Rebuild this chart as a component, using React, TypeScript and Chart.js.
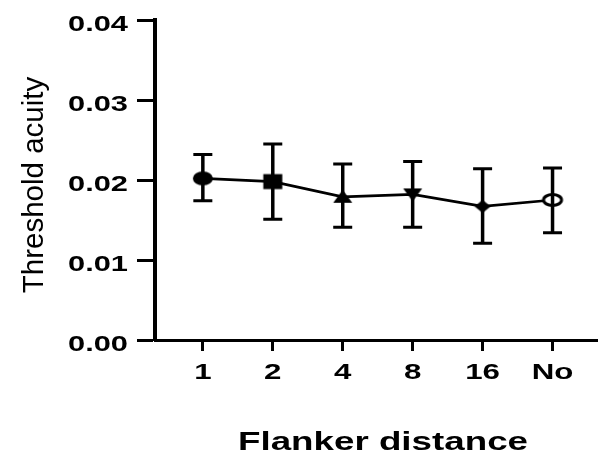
import React, { useEffect, useRef } from "react";
import { Chart, registerables } from "chart.js";
Chart.register(...registerables);

const categories = ["1", "2", "4", "8", "16", "No"];
const means = [0.0202, 0.0198, 0.0179, 0.0182, 0.0167, 0.0175];
const errUpper = [0.0232, 0.0245, 0.0220, 0.0223, 0.0214, 0.0215];
const errLower = [0.0174, 0.0151, 0.0141, 0.0141, 0.0121, 0.0134];
const yTicks = [0, 0.01, 0.02, 0.03, 0.04];
const markerKinds = ["circle", "square", "triangle", "invTriangle", "diamond", "openCircle"];
const xTitle = "Flanker distance";
const yTitle = "Threshold acuity";

function makeMarker(kind: string): HTMLCanvasElement {
  const c = document.createElement("canvas");
  c.width = 26;
  c.height = 20;
  const g = c.getContext("2d")!;
  const cx = 13, cy = 10;
  g.fillStyle = "#000";
  g.strokeStyle = "#000";
  g.beginPath();
  if (kind === "circle") {
    g.ellipse(cx, cy, 10, 7, 0, 0, Math.PI * 2);
    g.fill();
  } else if (kind === "square") {
    g.fillRect(cx - 9.5, cy - 7.5, 19, 15);
  } else if (kind === "triangle") {
    g.moveTo(cx, cy - 7);
    g.lineTo(cx + 9.5, cy + 6);
    g.lineTo(cx - 9.5, cy + 6);
    g.closePath();
    g.fill();
  } else if (kind === "invTriangle") {
    g.moveTo(cx - 9.5, cy - 6);
    g.lineTo(cx + 9.5, cy - 6);
    g.lineTo(cx, cy + 7);
    g.closePath();
    g.fill();
  } else if (kind === "diamond") {
    g.moveTo(cx, cy - 6.5);
    g.lineTo(cx + 8, cy);
    g.lineTo(cx, cy + 6.5);
    g.lineTo(cx - 8, cy);
    g.closePath();
    g.fill();
  } else {
    g.ellipse(cx, cy, 9, 5.5, 0, 0, Math.PI * 2);
    g.fillStyle = "#fff";
    g.fill();
    g.lineWidth = 3;
    g.stroke();
  }
  return c;
}

const errorBarPlugin = {
  id: "errorBars",
  afterDatasetsDraw(chart: any) {
    const { ctx, scales } = chart;
    const xs = scales.x, ys = scales.y;
    ctx.save();
    ctx.strokeStyle = "#000";
    ctx.lineCap = "butt";
    means.forEach((_, i) => {
      const x = xs.getPixelForValue(i);
      const yt = ys.getPixelForValue(errUpper[i]);
      const yb = ys.getPixelForValue(errLower[i]);
      ctx.lineWidth = 3.5;
      ctx.beginPath();
      ctx.moveTo(x, yt);
      ctx.lineTo(x, yb);
      ctx.stroke();
      ctx.lineWidth = 3;
      ctx.beginPath();
      ctx.moveTo(x - 9.5, yt);
      ctx.lineTo(x + 9.5, yt);
      ctx.moveTo(x - 9.5, yb);
      ctx.lineTo(x + 9.5, yb);
      ctx.stroke();
    });
    ctx.restore();
  },
};

function stretchedText(ctx: any, text: string, x: number, y: number, sx: number, align: string) {
  ctx.save();
  ctx.translate(x, y);
  ctx.scale(sx, 1);
  ctx.textAlign = align;
  ctx.textBaseline = "alphabetic";
  ctx.fillText(text, 0, 0);
  ctx.restore();
}

const labelPlugin = {
  id: "labels",
  afterDraw(chart: any) {
    const { ctx, scales, chartArea } = chart;
    const xs = scales.x, ys = scales.y;
    ctx.save();
    ctx.fillStyle = "#000";
    ctx.font = "bold 22px 'Liberation Sans', Arial, sans-serif";
    yTicks.forEach((v) => {
      stretchedText(ctx, v.toFixed(2), 128, ys.getPixelForValue(v) + 10.5, 1.4, "right");
    });
    categories.forEach((c, i) => {
      stretchedText(ctx, c, xs.getPixelForValue(i), 379, 1.42, "center");
    });
    ctx.font = "bold 25px 'Liberation Sans', Arial, sans-serif";
    stretchedText(ctx, xTitle, 383, 450, 1.47, "center");
    ctx.font = "29.5px 'Liberation Sans', Arial, sans-serif";
    ctx.translate(43, (chartArea.top + chartArea.bottom) / 2 + 5);
    ctx.rotate(-Math.PI / 2);
    ctx.textAlign = "center";
    ctx.textBaseline = "alphabetic";
    ctx.fillText(yTitle, 0, 0);
    ctx.restore();
  },
};

export default function App() {
  const ref = useRef<HTMLCanvasElement>(null);
  useEffect(() => {
    const markers = markerKinds.map(makeMarker);
    const chart = new Chart(ref.current!, {
      type: "line",
      data: {
        datasets: [
          {
            data: means.map((v, i) => ({ x: i, y: v })),
            borderColor: "#000",
            borderWidth: 2.7,
            pointStyle: markers as any,
            pointRadius: 10,
          } as any,
        ],
      },
      options: {
        animation: false,
        responsive: false,
        events: [],
        layout: { padding: { top: 20, right: 2, left: 0, bottom: 0 } },
        plugins: { legend: { display: false }, tooltip: { enabled: false } },
        scales: {
          x: {
            type: "linear",
            min: -0.684,
            max: 5.64,
            afterFit: (s: any) => { s.height = 114; },
            afterBuildTicks: (s: any) => { s.ticks = categories.map((_, i) => ({ value: i })); },
            ticks: { display: false },
            grid: { drawOnChartArea: false, tickLength: 11, tickWidth: 3, tickColor: "#000" },
            border: { color: "#000", width: 3 },
          },
          y: {
            min: 0,
            max: 0.04,
            afterFit: (s: any) => { s.width = 155; },
            afterBuildTicks: (s: any) => { s.ticks = yTicks.map((v) => ({ value: v })); },
            ticks: { display: false },
            grid: { drawOnChartArea: false, tickLength: 18, tickWidth: 3, tickColor: "#000" },
            border: { color: "#000", width: 4 },
          },
        },
      },
      plugins: [errorBarPlugin, labelPlugin],
    });
    return () => chart.destroy();
  }, []);
  return (
    <div style={{ position: "fixed", left: 0, top: 0, width: 610, height: 454, background: "#fff" }}>
      <canvas ref={ref} width={610} height={454} />
    </div>
  );
}
